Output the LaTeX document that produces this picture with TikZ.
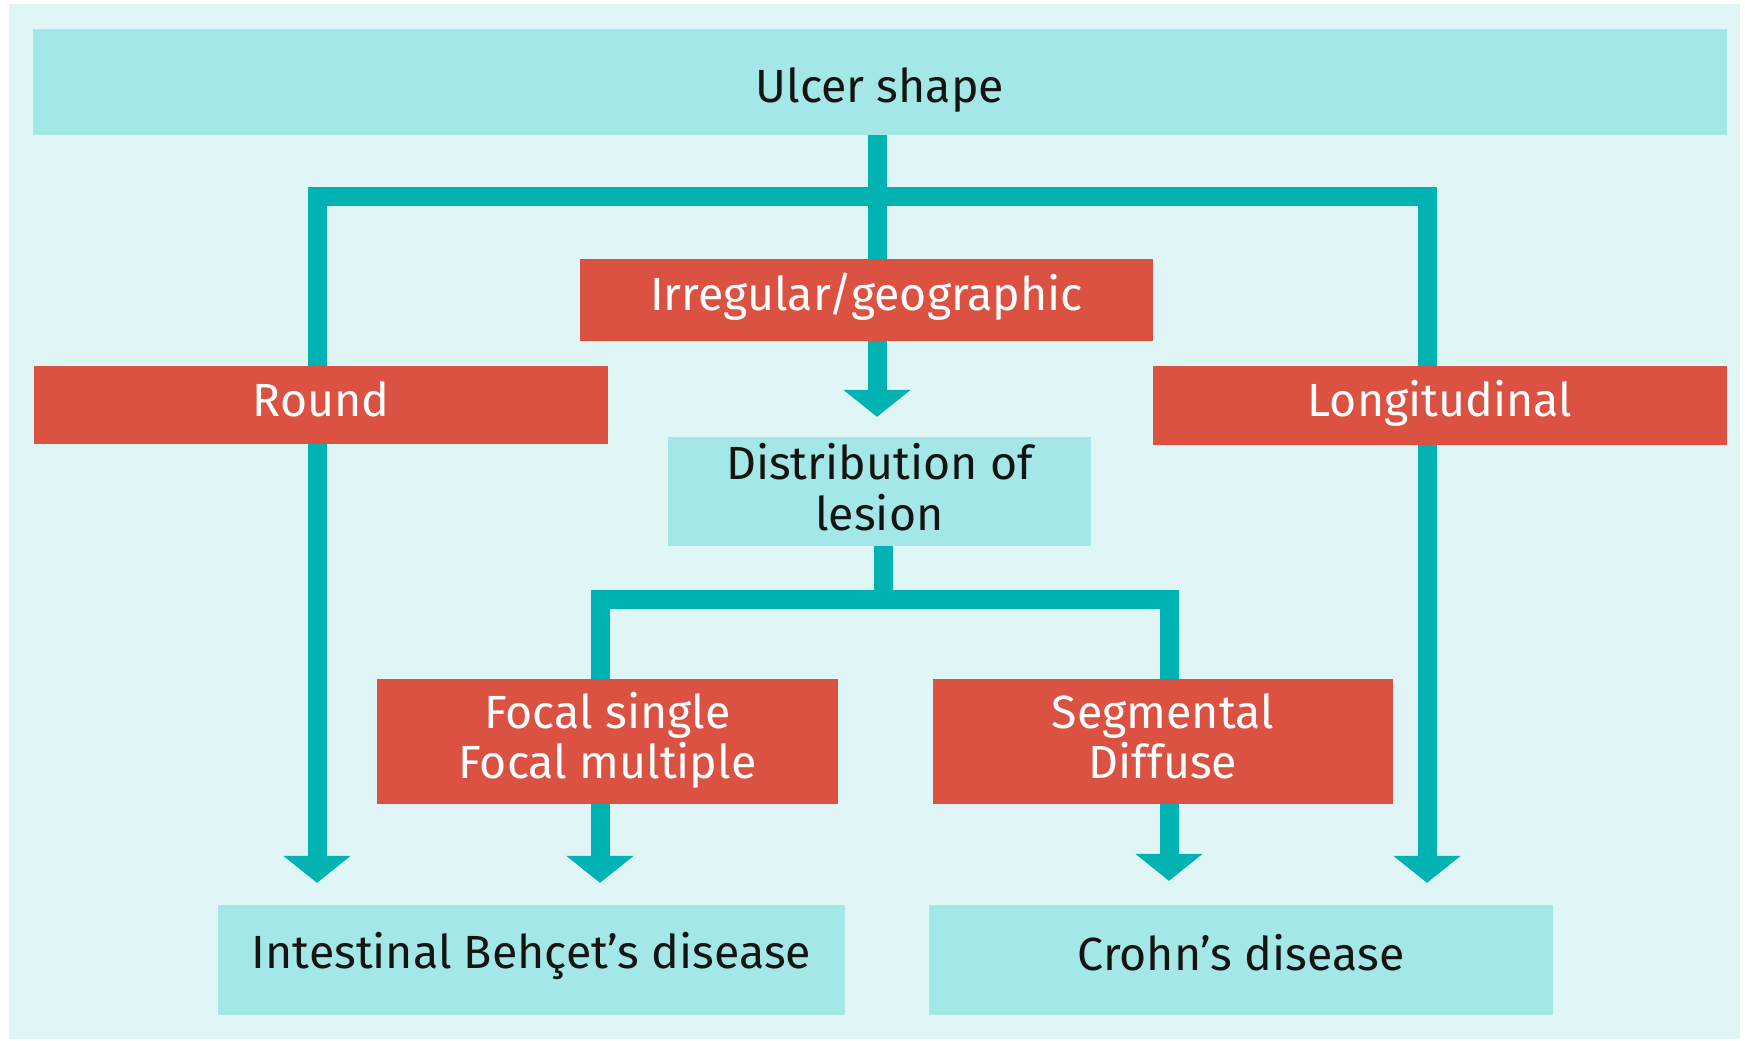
\documentclass[tikz,border=0pt]{standalone}
\usepackage{fontspec}
\setmainfont{Fira Sans}
\usetikzlibrary{arrows.meta,calc}
\definecolor{bgc}{RGB}{223,245,246}
\definecolor{boxc}{RGB}{163,231,231}
\definecolor{redc}{RGB}{219,82,67}
\definecolor{linec}{RGB}{0,178,178}
\definecolor{txtc}{RGB}{20,20,20}
\pgfdeclarelayer{back}
\pgfdeclarelayer{lines}
\pgfsetlayers{back,lines,main}
\newcommand{\bl}[2]{\raisebox{#1}[0pt][0pt]{#2}}
\newcommand{\twol}[3]{\raisebox{#1}[0pt][0pt]{\begin{tabular}[t]{@{}c@{}}#2\\#3\end{tabular}}}
\tikzset{
  box/.style={rectangle, inner sep=0pt, align=center, font=\fontsize{46.5}{48}\selectfont},
  lightbox/.style={box, fill=boxc, text=txtc},
  redbox/.style={box, fill=redc, text=white},
  conn/.style={draw=linec, line width=19pt, line join=miter},
  tipa/.tip={Triangle[width=66pt,length=27pt]}
}
\begin{document}
\begin{tikzpicture}[x=1pt,y=-1pt]
\useasboundingbox (0,0) rectangle (1745,1041);
\begin{pgfonlayer}{back}
\fill[white] (0,0) rectangle (1745,1041);
\fill[bgc] (9,4) rectangle (1740,1039);
\end{pgfonlayer}

\node[lightbox, minimum width=1694pt, minimum height=106pt] (top) at (880,82) {\bl{-20pt}{Ulcer shape}};
\node[redbox, minimum width=573pt, minimum height=82pt] (irr) at (866.5,300) {\bl{-10pt}{Irregular/geographic}};
\node[redbox, minimum width=574pt, minimum height=78pt] (round) at (321,405) {\bl{-11pt}{Round}};
\node[redbox, minimum width=574pt, minimum height=79pt] (long) at (1440,405.5) {\bl{-11pt}{Longitudinal}};
\node[lightbox, minimum width=423pt, minimum height=109pt] (dist) at (879.5,491.5) {\twol{12pt}{Distribution of}{lesion}};
\node[redbox, minimum width=461pt, minimum height=125pt] (focal) at (607.5,741.5) {\twol{13.5pt}{Focal single}{Focal multiple}};
\node[redbox, minimum width=460pt, minimum height=125pt] (seg) at (1163,741.5) {\twol{13.5pt}{Segmental}{Diffuse}};
\node[lightbox, minimum width=627pt, minimum height=110pt] (beh) at (531.5,960) {\bl{-8pt}{Intestinal Behçet’s disease}};
\node[lightbox, minimum width=624pt, minimum height=110pt] (crohn) at (1241,960) {\bl{-10pt}{Crohn’s disease}};

\coordinate (jT) at (877,196);
\coordinate (jL) at (317,196);
\coordinate (jR) at (1427,196);
\coordinate (jD) at (883,599);
\coordinate (jF) at (600,599);
\coordinate (jS) at (1169,599);

\begin{pgfonlayer}{lines}
\draw[conn] (top.south -| jT) -- (jT);
\draw[conn] (jT) -- (irr.north -| jT);
\draw[conn, -tipa, shorten >=20pt] (irr.south -| jT) -- (dist.north -| jT);
\draw[conn, tipa-tipa, shorten <=22pt, shorten >=22pt] (beh.north -| jL) -- (jL) -- (jR) -- (crohn.north -| jR);
\draw[conn] (dist.south -| jD) -- (jD);
\draw[conn] (focal.north -| jF) -- (jF) -- (jS) -- (seg.north -| jS);
\draw[conn, -tipa, shorten >=22pt] (focal.south -| jF) -- (beh.north -| jF);
\draw[conn, -tipa, shorten >=24pt] (seg.south -| jS) -- (crohn.north -| jS);
\end{pgfonlayer}
\end{tikzpicture}
\end{document}
